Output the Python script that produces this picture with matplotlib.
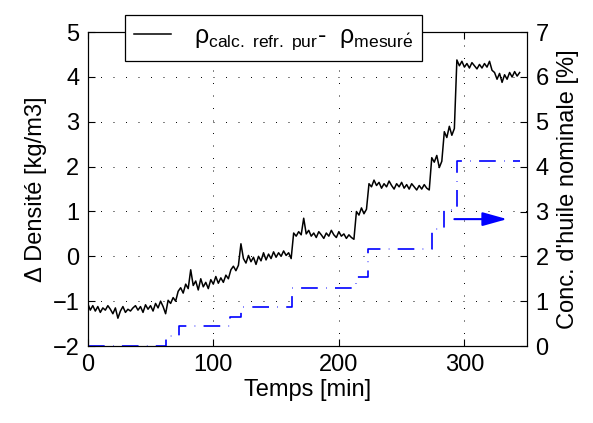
import numpy as np
import matplotlib
matplotlib.use('Agg')
import matplotlib.pyplot as plt

# police type Arial / mathtext dans la meme police
plt.rcParams['font.family'] = ['Liberation Sans', 'DejaVu Sans']
plt.rcParams['mathtext.fontset'] = 'custom'
plt.rcParams['mathtext.rm'] = 'Liberation Sans'
plt.rcParams['mathtext.it'] = 'Liberation Sans:italic'
plt.rcParams['lines.scale_dashes'] = False

# temps d'echantillonnage [min]
temps = np.arange(0, 346, 2)

delta_rho = [
    -1.05, -1.20, -1.10, -1.22, -1.12, -1.25, -1.15, -1.20, -1.10, -1.18,
    -1.28, -1.15, -1.38, -1.22, -1.12, -1.25, -1.18, -1.22, -1.15, -1.10,
    -1.20, -1.12, -1.25, -1.08, -1.18, -1.10, -1.22, -1.05, -1.15, -1.00,
    -1.12, -1.28, -0.98, -1.05, -0.92, -1.00, -0.78, -0.70, -0.82, -0.62,
    -0.72, -0.30, -0.65, -0.55, -0.75, -0.50, -0.68, -0.58, -0.72, -0.52,
    -0.62, -0.45, -0.60, -0.48, -0.58, -0.42, -0.50, -0.30, -0.22, -0.32,
    -0.20, 0.28, -0.05, -0.15, 0.02, -0.12, -0.02, -0.18, 0.00, -0.10,
    0.08, -0.08, 0.05, -0.05, 0.10, -0.02, 0.08, 0.00, 0.12, 0.02,
    0.08, -0.05, 0.52, 0.45, 0.55, 0.48, 0.85, 0.50, 0.58, 0.45,
    0.52, 0.42, 0.55, 0.48, 0.40, 0.52, 0.45, 0.58, 0.48, 0.42,
    0.55, 0.45, 0.50, 0.40, 0.48, 0.42, 0.38, 1.00, 0.92, 1.08,
    0.95, 1.05, 1.62, 1.55, 1.70, 1.58, 1.65, 1.52, 1.62, 1.55,
    1.68, 1.58, 1.50, 1.62, 1.55, 1.65, 1.52, 1.60, 1.50, 1.62,
    1.55, 1.48, 1.58, 1.50, 1.60, 1.52, 1.48, 2.20, 2.10, 2.25,
    1.98, 2.12, 2.78, 2.65, 2.90, 2.70, 2.85, 4.38, 4.25, 4.35,
    4.22, 4.30, 4.20, 4.32, 4.25, 4.18, 4.28, 4.20, 4.30, 4.22,
    4.35, 4.15, 4.10, 3.95, 4.08, 3.88, 4.05, 3.95, 4.10, 4.00,
    4.12, 4.02, 4.10,
]

# concentration nominale d'huile [%] (paliers)
conc_t = [0, 62, 73, 113, 122, 163, 214, 223, 274, 284, 294, 344]
conc_v = [0, 0.22, 0.45, 0.65, 0.87, 1.29, 1.54, 2.16, 2.62, 3.03, 4.12, 4.12]

fs = 17

fig = plt.figure(figsize=(5.93, 4.23), dpi=100)
ax = fig.add_axes([0.148, 0.182, 0.741, 0.742])
ax2 = ax.twinx()

l1, = ax.plot(temps, delta_rho, color='k', lw=1.1)
ax2.plot(conc_t, conc_v, color='blue', lw=1.2, drawstyle='steps-post',
         dashes=(12, 6, 0.4, 6))

# fleche vers l'axe de droite
ax2.annotate('', xy=(334, 2.83), xytext=(292, 2.83),
             arrowprops=dict(arrowstyle='-|>,head_length=1.0,head_width=0.28',
                             color='blue', lw=1.5, mutation_scale=15,
                             shrinkA=0, shrinkB=0))

ax.set_xlim(0, 350)
ax.set_ylim(-2, 5)
ax2.set_ylim(0, 7)
ax.set_xticks([0, 100, 200, 300])
ax.set_yticks(range(-2, 6))
ax2.set_yticks(range(0, 8))

ax.grid(True, color='k', linestyle=(0, (0.7, 8.3)), lw=0.7)
ax.tick_params(direction='in', length=5, top=True, labelsize=fs, pad=6)
ax2.tick_params(direction='in', length=5, labelsize=fs, pad=6)
for a in (ax, ax2):
    for s in a.spines.values():
        s.set_linewidth(0.8)

ax.set_xlabel('Temps [min]', fontsize=fs, labelpad=2)
ax.set_ylabel('Δ Densité [kg/m3]', fontsize=fs, labelpad=4)
ax2.set_ylabel("Conc. d'huile nominale [%]", fontsize=fs, labelpad=6)

lab = r'$\mathrm{\rho}_{\mathrm{calc.\ refr.\ pur}}$-  $\mathrm{\rho}_{\mathrm{mesur\acute{e}}}$'
leg = fig.legend([l1], [lab], loc='upper left', bbox_to_anchor=(0.211, 0.965),
                 fontsize=18, frameon=True, fancybox=False, edgecolor='k',
                 framealpha=1, handlelength=1.5, handletextpad=0.9,
                 borderpad=0.35, borderaxespad=0)
leg.get_frame().set_linewidth(0.9)

fig.savefig('out.png', dpi=100)
